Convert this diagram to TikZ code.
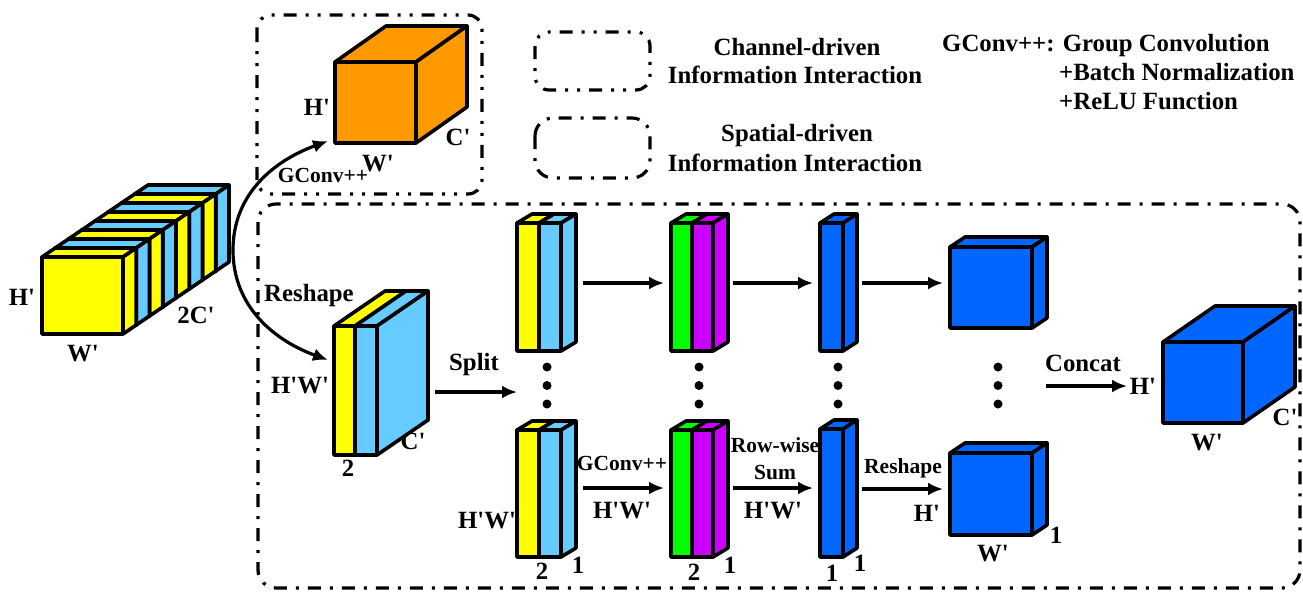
\documentclass[tikz,border=0pt]{standalone}
\usepackage{fontspec}
\newfontfamily\lbf{Liberation Serif}
\usetikzlibrary{arrows.meta}
\definecolor{cyel}{RGB}{255,255,0}
\definecolor{cblu}{RGB}{102,204,255}
\definecolor{corg}{RGB}{255,153,0}
\definecolor{cdb}{RGB}{0,102,255}
\definecolor{cgrn}{RGB}{0,255,0}
\definecolor{cpur}{RGB}{204,0,255}
\tikzset{
  face/.style={draw=black, line width=3.6pt, line join=round},
  lab/.style={font=\lbf\bfseries\fontsize{24.8}{28}\selectfont, inner sep=0pt, text height=17pt, text depth=1pt},
  slab/.style={font=\lbf\bfseries\fontsize{21.5}{24}\selectfont, inner sep=0pt, text height=15pt, text depth=1pt},
  arr/.style={line width=3.2pt, -{Latex[length=15pt,width=13pt]}},
  chbox/.style={line width=3.2pt, rounded corners=14pt, dash pattern=on 13pt off 9pt on 3pt off 9pt on 3pt off 9pt},
  spbox/.style={line width=3.2pt, rounded corners=18pt, dash pattern=on 13pt off 9pt on 3pt off 9pt},
}
% x y w h dx dy colour
\newcommand\cuboid[7]{%
  \filldraw[face,fill=#7] (#1,#2) rectangle ({#1+#3},{#2+#4});
  \filldraw[face,fill=#7] (#1,#2) -- ++(#5,#6) -- ++(#3,0) -- ({#1+#3},#2) -- cycle;
  \filldraw[face,fill=#7] ({#1+#3},#2) -- ++(#5,#6) -- ++(0,#4) -- ({#1+#3},{#2+#4}) -- cycle;
}
% x y w1 w2 h dx dy c1 c2
\newcommand\twocol[9]{%
  \filldraw[face,fill=#8] (#1,#2) rectangle ({#1+#3},{#2+#5});
  \filldraw[face,fill=#9] ({#1+#3},#2) rectangle ({#1+#3+#4},{#2+#5});
  \filldraw[face,fill=#8] (#1,#2) -- ++(#6,#7) -- ++(#3,0) -- ({#1+#3},#2) -- cycle;
  \filldraw[face,fill=#9] ({#1+#3},#2) -- ++(#6,#7) -- ++(#4,0) -- ({#1+#3+#4},#2) -- cycle;
  \filldraw[face,fill=#9] ({#1+#3+#4},#2) -- ++(#6,#7) -- ++(0,#5) -- ({#1+#3+#4},{#2+#5}) -- cycle;
}
\begin{document}
\begin{tikzpicture}[x=1pt,y=-1pt]
\useasboundingbox (0,0) rectangle (1303,592);

% dashed groups
\draw[chbox] (257,15) rectangle (482,194);
\draw[spbox] (258,204) rectangle (1300,588);
\draw[chbox] (535,32) rectangle (650,90);
\draw[spbox] (535,118) rectangle (650,178);

% legend text
\node[lab] (leg1a) at (797,47) {Channel-driven};
\node[lab] (leg1b) at (795,75) {Information Interaction};
\node[lab] (leg2a) at (797,133) {Spatial-driven};
\node[lab] (leg2b) at (795,163) {Information Interaction};
\node[lab,anchor=west] (g1) at (942,43) {GConv++: Group Convolution};
\node[lab,anchor=west] (g2) at (1059,72) {+Batch Normalization};
\node[lab,anchor=west] (g3) at (1059,101) {+ReLU Function};

% striped input cube
\foreach \k in {7,...,0}{
  \pgfmathsetmacro\xx{42+\k*13.25}
  \pgfmathsetmacro\yy{257-\k*9}
  \ifodd\k \def\cc{cblu}\else\def\cc{cyel}\fi
  \cuboid{\xx}{\yy}{81}{77}{13.25}{-9}{\cc}
}
\node[lab] (inH) at (22,297) {H'};
\node[lab] (inW) at (83,353) {W'};
\node[lab] (inC) at (196,315) {2C'};

% orange cube
\cuboid{335}{62}{81}{81}{51}{-36}{corg}
\node[lab] (oH) at (317,107) {H'};
\node[lab] (oW) at (378,163) {W'};
\node[lab] (oC) at (458,137) {C'};
\node[slab] (oG) at (323,175) {GConv++};

% curved arrows
\coordinate (src) at (233,250);
\coordinate (oin) at (328,141);
\coordinate (sin) at (328,360);
\draw[arr] (src) to[out=90,in=200] (oin);
\draw[arr] (src) to[out=-90,in=160] (sin);
\node[lab,anchor=west] (rs1) at (264,293) {Reshape};

% split cube
\twocol{334}{326}{21}{22}{129}{51}{-35}{cyel}{cblu}
\node[lab] (sH) at (300,385) {H'W'};
\node[lab] (s2) at (348,468) {2};
\node[lab] (sC) at (413,441) {C'};
\coordinate (sp1) at (435,392);
\coordinate (sp2) at (517,392);
\draw[arr] (sp1) -- (sp2);
\node[lab] (spl) at (474,362) {Split};

% columns
\twocol{517}{223}{22}{22}{128}{15}{-9}{cyel}{cblu}
\twocol{517}{430}{22}{22}{127}{15}{-9}{cyel}{cblu}
\twocol{671}{223}{21}{21}{128}{15}{-9}{cgrn}{cpur}
\twocol{671}{430}{21}{21}{127}{15}{-9}{cgrn}{cpur}
\cuboid{820}{223}{23}{128}{14}{-9}{cdb}
\cuboid{820}{429}{23}{128}{14}{-9}{cdb}
\cuboid{950}{247}{82}{81}{15}{-10}{cdb}
\cuboid{950}{453}{82}{82}{15}{-10}{cdb}
\cuboid{1163}{342}{80}{81}{52}{-36}{cdb}

% dots
\foreach \x in {547,699,838,998}{
  \foreach \y in {367,385.5,404}{
    \fill (\x,\y) circle (4.5);
  }
}

% row arrows
\coordinate (t1a) at (583,283); \coordinate (t1b) at (664,283);
\coordinate (t2a) at (733,283); \coordinate (t2b) at (813,283);
\coordinate (t3a) at (862,283); \coordinate (t3b) at (943,283);
\coordinate (b1a) at (583,488); \coordinate (b1b) at (664,488);
\coordinate (b2a) at (733,488); \coordinate (b2b) at (813,488);
\coordinate (b3a) at (862,489); \coordinate (b3b) at (943,489);
\coordinate (c1a) at (1046,386); \coordinate (c1b) at (1127,386);
\draw[arr] (t1a) -- (t1b);
\draw[arr] (t2a) -- (t2b);
\draw[arr] (t3a) -- (t3b);
\draw[arr] (b1a) -- (b1b);
\draw[arr] (b2a) -- (b2b);
\draw[arr] (b3a) -- (b3b);
\draw[arr] (c1a) -- (c1b);

% bottom row labels
\node[lab] (bH1) at (487,520) {H'W'};
\node[lab] (b2n) at (542,571) {2};
\node[lab] (b1n) at (578,565) {1};
\node[slab] (bG) at (622,463) {GConv++};
\node[lab] (bH2) at (622,510) {H'W'};
\node[lab] (gp2) at (694,572) {2};
\node[lab] (gp1) at (730,565) {1};
\node[slab] (rw1) at (775,445) {Row-wise};
\node[slab] (rw2) at (775,472) {Sum};
\node[lab] (bH3) at (773,510) {H'W'};
\node[lab] (bc1) at (832,573) {1};
\node[lab] (bc2) at (860,563) {1};
\node[slab] (rs2) at (903,466) {Reshape};
\node[lab] (bH4) at (927,513) {H'};
\node[lab] (bW) at (993,553) {W'};
\node[lab] (b1c) at (1056,535) {1};

% concat
\node[lab] (cc) at (1083,363) {Concat};
\node[lab] (fH) at (1143,386) {H'};
\node[lab] (fW) at (1207,442) {W'};
\node[lab] (fC) at (1285,417) {C'};
\end{tikzpicture}
\end{document}
